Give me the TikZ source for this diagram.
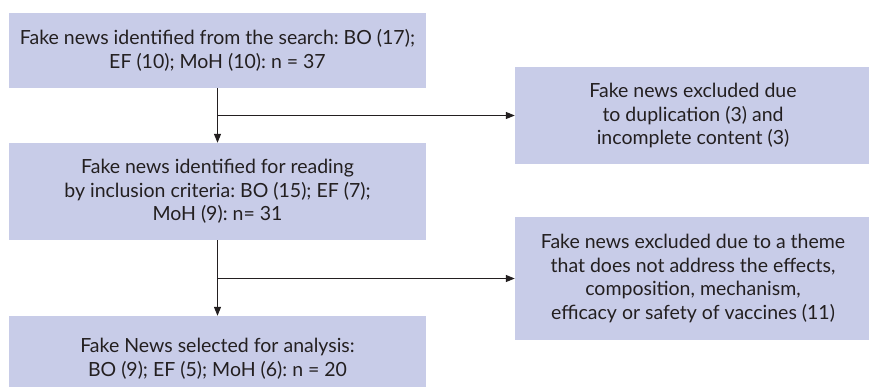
\documentclass[tikz,border=0pt]{standalone}
\usepackage{fontspec}
\setmainfont{Lato}
\usetikzlibrary{arrows.meta}
\definecolor{boxfill}{RGB}{200,204,232}
\definecolor{ink}{RGB}{35,31,32}
\frenchspacing
\tikzset{
  box/.style={fill=boxfill, draw=none, align=center, text=ink, inner sep=0pt,
    font=\fontsize{19.5}{23.5}\selectfont},
  conn/.style={draw=ink, line width=1.2pt, -{Triangle[length=9pt,width=7pt]}},
}
\begin{document}
\begin{tikzpicture}[x=1pt,y=-1pt]
\useasboundingbox (0,0) rectangle (869,386);
\node[box, minimum width=417pt, minimum height=75pt] (b1) at (217.5,50.5)
  {Fake news identified from the search: BO (17);\\EF (10); MoH (10): n = 37};
\node[box, minimum width=417pt, minimum height=97pt] (b2) at (217.5,191.5)
  {Fake news identified for reading\\by inclusion criteria: BO (15); EF (7);\\MoH (9): n= 31};
\node[box, minimum width=417pt, minimum height=85pt] (b3) at (217.5,358.5)
  {Fake News selected for analysis:\\BO (9); EF (5); MoH (6): n = 20};
\node[box, minimum width=356pt, minimum height=97pt] (r1) at (693,115.5)
  {Fake news excluded due\\to duplication (3) and\\incomplete content (3)};
\node[box, minimum width=356pt, minimum height=123pt] (r2) at (693,278.5)
  {Fake news excluded due to a theme\\that does not address the effects,\\composition, mechanism,\\efficacy or safety of vaccines (11)};
\coordinate (j1) at (217.5,115.5);
\coordinate (j2) at (217.5,278.5);
\draw[conn] (b1.south) -- (b2.north);
\draw[conn] (j1) -- (r1.west);
\draw[conn] (b2.south) -- (b3.north);
\draw[conn] (j2) -- (r2.west);
\end{tikzpicture}
\end{document}
